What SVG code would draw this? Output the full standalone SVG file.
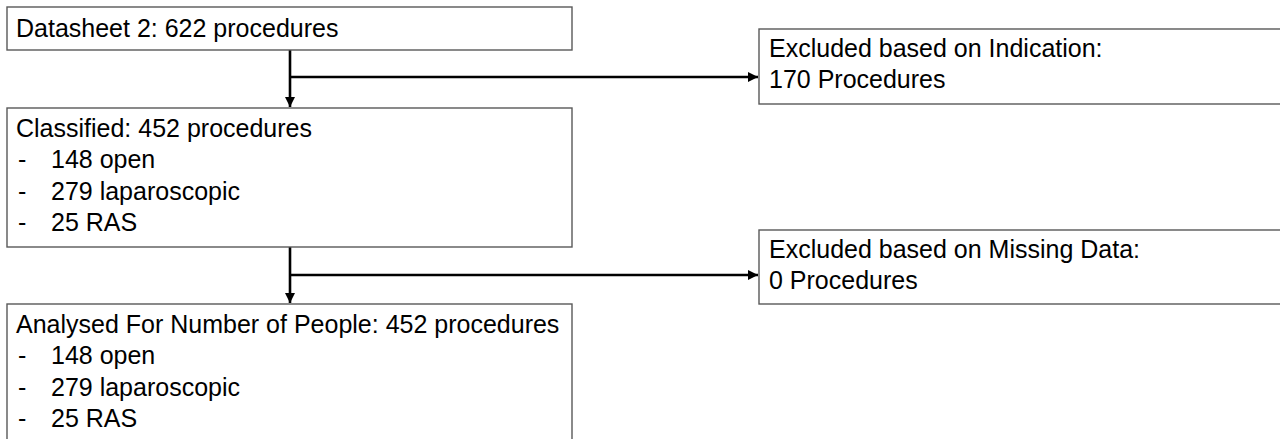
<svg xmlns="http://www.w3.org/2000/svg" width="1280" height="439" viewBox="0 0 1280 439">
  <style>
    .box { fill: #ffffff; stroke: #595959; stroke-width: 1.4; }
    .t { font-family: "Liberation Sans", Arial, sans-serif; font-size: 25px; fill: #000000; }
    .conn { fill: none; stroke: #000000; stroke-width: 2.6; }
  </style>
  <defs>
    <marker id="arrow" viewBox="0 0 10 10" refX="10" refY="5" markerWidth="4" markerHeight="4" markerUnits="strokeWidth" orient="auto">
      <path d="M0,0 L10,5 L0,10 z" fill="#000000"/>
    </marker>
  </defs>
  <rect width="1280" height="439" fill="#ffffff"/>

  <g id="connectors">
    <line class="conn" x1="290" y1="50" x2="290" y2="107" marker-end="url(#arrow)"/>
    <line class="conn" x1="290" y1="77" x2="758" y2="77" marker-end="url(#arrow)"/>
    <line class="conn" x1="290" y1="247" x2="290" y2="303" marker-end="url(#arrow)"/>
    <line class="conn" x1="290" y1="275" x2="758" y2="275" marker-end="url(#arrow)"/>
  </g>

  <g id="node-datasheet">
    <rect class="box" x="7" y="7" width="565" height="43"/>
    <text class="t" x="16" y="37">Datasheet 2: 622 procedures</text>
  </g>

  <g id="node-excluded-indication">
    <rect class="box" x="759" y="29" width="540" height="75"/>
    <text class="t" x="769" y="57">Excluded based on Indication:</text>
    <text class="t" x="769" y="88">170 Procedures</text>
  </g>

  <g id="node-classified">
    <rect class="box" x="7" y="108" width="565" height="139"/>
    <text class="t" x="16" y="137">Classified: 452 procedures</text>
    <text class="t" x="18" y="168">-</text>
    <text class="t" x="51" y="168">148 open</text>
    <text class="t" x="18" y="200">-</text>
    <text class="t" x="51" y="200">279 laparoscopic</text>
    <text class="t" x="18" y="231">-</text>
    <text class="t" x="51" y="231">25 RAS</text>
  </g>

  <g id="node-excluded-missing">
    <rect class="box" x="759" y="230" width="540" height="74"/>
    <text class="t" x="769" y="258">Excluded based on Missing Data:</text>
    <text class="t" x="769" y="289">0 Procedures</text>
  </g>

  <g id="node-analysed">
    <rect class="box" x="7" y="304" width="565" height="160"/>
    <text class="t" x="16" y="333">Analysed For Number of People: 452 procedures</text>
    <text class="t" x="18" y="364">-</text>
    <text class="t" x="51" y="364">148 open</text>
    <text class="t" x="18" y="396">-</text>
    <text class="t" x="51" y="396">279 laparoscopic</text>
    <text class="t" x="18" y="427">-</text>
    <text class="t" x="51" y="427">25 RAS</text>
  </g>
</svg>
